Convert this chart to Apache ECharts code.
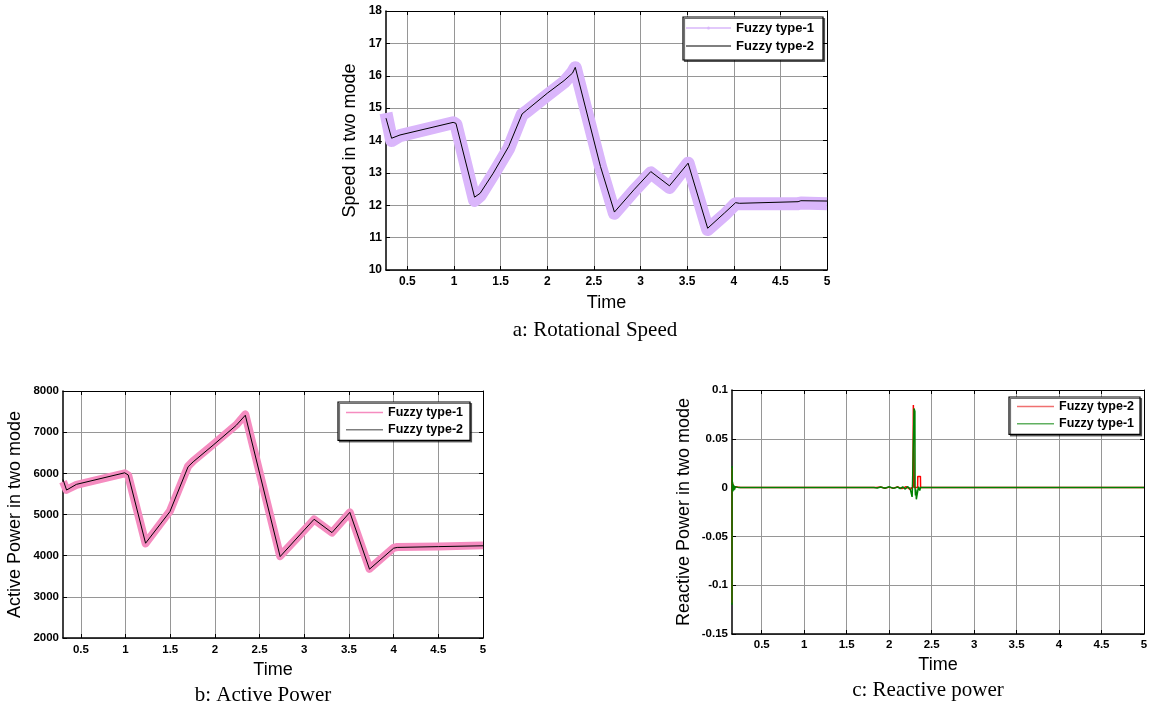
<!DOCTYPE html>
<html><head><meta charset="utf-8">
<script src="https://cdn.jsdelivr.net/npm/echarts@6/dist/echarts.min.js"></script>
<style>html,body{margin:0;padding:0;background:#fff}#c{width:1152px;height:709px}</style>
</head><body><div id="c"></div>
<script>
// ---- tick labels ----
const xTicks = [0.5, 1, 1.5, 2, 2.5, 3, 3.5, 4, 4.5, 5];

// ---- a: Rotational Speed ----
const speedTime  = [0.27, 0.33, 0.42, 0.99, 1.02, 1.22, 1.28, 1.42, 1.585, 1.73, 1.78, 2.0, 2.18, 2.27, 2.30, 2.57, 2.72, 2.93, 3.11, 3.31, 3.51, 3.72, 3.90, 4.02, 4.06, 4.69, 4.72, 5.0];
const speedType1 = [14.85, 14.0, 14.15, 14.55, 14.5, 12.15, 12.3, 12.95, 13.75, 14.8, 14.9, 15.4, 15.8, 16.1, 16.25, 13.2, 11.75, 12.45, 13.0, 12.55, 13.3, 11.25, 11.7, 12.05, 12.05, 12.05, 12.07, 12.05];
const speedType2 = [14.69, 14.07, 14.17, 14.56, 14.53, 12.25, 12.37, 12.99, 13.81, 14.82, 14.94, 15.46, 15.85, 16.08, 16.26, 13.2, 11.79, 12.48, 13.04, 12.60, 13.30, 11.29, 11.76, 12.08, 12.06, 12.11, 12.14, 12.13];

// ---- b: Active Power ----
const powerTime  = [0.30, 0.34, 0.45, 0.99, 1.03, 1.224, 1.496, 1.70, 1.757, 1.98, 2.24, 2.34, 2.73, 2.95, 3.11, 3.31, 3.51, 3.73, 4.0, 4.04, 4.5, 5.0];
const powerType1 = [5800, 5600, 5720, 6000, 5950, 4300, 5080, 6170, 6300, 6700, 7180, 7430, 3990, 4500, 4880, 4560, 5050, 3680, 4190, 4210, 4220, 4250];
const powerType2 = [5850, 5594, 5732, 6013, 5960, 4302, 5068, 6160, 6280, 6684, 7169, 7411, 3978, 4504, 4884, 4560, 5053, 3672, 4181, 4200, 4220, 4240];

// ---- c: Reactive power ----
const reactiveTime2 = [0.15, 0.151, 0.155, 0.16, 0.17, 0.18, 0.2, 0.25, 1.85, 1.9, 1.95, 2.0, 2.05, 2.1, 2.15, 2.2, 2.25, 2.28, 2.285, 2.29, 2.294, 2.296, 2.30, 2.335, 2.337, 2.368, 2.37, 5.0];
const reactiveType2 = [-0.118, 0.02, -0.003, 0.004, -0.002, 0.001, 0, 0, 0, 0.0006, -0.0006, 0.0005, -0.0008, 0.0008, -0.001, 0.001, -0.002, 0.001, 0.0845, 0.0845, 0.083, 0, 0, 0, 0.0115, 0.0115, 0, 0];
const reactiveTime1 = [0.15, 0.151, 0.153, 0.156, 0.16, 0.165, 0.17, 0.175, 0.18, 0.19, 0.2, 0.21, 0.23, 0.25, 0.87, 0.88, 0.89, 1.82, 1.84, 1.86, 1.9, 1.95, 2.0, 2.05, 2.1, 2.13, 2.16, 2.19, 2.22, 2.25, 2.27, 2.275, 2.28, 2.293, 2.298, 2.303, 2.305, 2.31, 2.315, 2.32, 2.33, 2.34, 2.345, 2.36, 2.37, 2.38, 2.39, 5.0];
const reactiveType1 = [-0.12, 0.022, -0.002, 0.006, -0.004, 0.003, -0.003, 0.002, -0.002, 0.001, -0.001, 0.001, 0, 0, 0, 0.0008, 0, 0, 0.0008, -0.0005, 0.0006, -0.0006, 0.0008, -0.0008, 0.0006, -0.001, 0.0008, -0.0015, 0.001, -0.002, -0.0095, 0.002, 0.0015, 0.081, 0.079, 0.078, 0, -0.008, -0.002, -0.012, -0.013, -0.011, 0.001, -0.003, 0, -0.001, 0, 0];

const pairs = (t, v) => t.map((x, i) => [x, v[i]]);

const SANS = 'Liberation Sans, Arial, sans-serif';
const SERIF = 'Liberation Serif, Times New Roman, serif';

const grids = [
  { left: 386, top: 11, width: 441, height: 259 },
  { left: 63, top: 391, width: 420, height: 247 },
  { left: 732, top: 390, width: 412, height: 244 }
];

function xAxes(gi, min, labelSize, labelMargin, nameGap) {
  return [{
    type: 'value', gridIndex: gi, min: min, max: 5, position: 'bottom',
    name: 'Time', nameLocation: 'middle', nameGap: nameGap,
    nameTextStyle: { fontFamily: SANS, fontSize: 18, color: '#000' },
    axisLine: { show: true, onZero: false, lineStyle: { color: '#000', width: 1.5 } },
    axisTick: { show: true, inside: true, length: 4, customValues: xTicks, lineStyle: { color: '#000' } },
    axisLabel: { customValues: xTicks, fontFamily: SANS, fontWeight: 'bold', fontSize: labelSize, color: '#000', margin: labelMargin },
    splitLine: { show: true, lineStyle: { color: '#969696', width: 1 } }
  }, {
    type: 'value', gridIndex: gi, min: min, max: 5, position: 'top',
    axisLine: { show: true, onZero: false, lineStyle: { color: '#000', width: 1 } },
    axisTick: { show: true, inside: true, length: 4, customValues: xTicks, lineStyle: { color: '#000' } },
    axisLabel: { show: false }, splitLine: { show: false }
  }];
}
function yAxes(gi, min, max, interval, name, labelSize, nameGap) {
  return [{
    type: 'value', gridIndex: gi, min: min, max: max, interval: interval, position: 'left',
    name: name, nameLocation: 'middle', nameGap: nameGap,
    nameTextStyle: { fontFamily: SANS, fontSize: 18, color: '#000' },
    axisLine: { show: true, onZero: false, lineStyle: { color: '#000', width: 1.5 } },
    axisTick: { show: true, inside: true, length: 4, lineStyle: { color: '#000' } },
    axisLabel: { fontFamily: SANS, fontWeight: 'bold', fontSize: labelSize, color: '#000', margin: 4,
      formatter: v => String(+v.toFixed(4)) },
    splitLine: { show: true, lineStyle: { color: '#969696', width: 1 } }
  }, {
    type: 'value', gridIndex: gi, min: min, max: max, interval: interval, position: 'right',
    axisLine: { show: true, onZero: false, lineStyle: { color: '#000', width: 1 } },
    axisTick: { show: true, inside: true, length: 4, lineStyle: { color: '#000' } },
    axisLabel: { show: false }, splitLine: { show: false }
  }];
}

const LINE_ICON = 'path://M0,0M45,14M0,6.5H45V7.5H0Z';
const THICK_ICON = 'path://M0,0M45,14M0,6H45V8H0Z';
const DOT_ICON = 'path://M0,0M45,14M0,6.2H45V7.8H0Z M24,7A1.5,1.5,0,1,1,21,7A1.5,1.5,0,1,1,24,7Z';

function legend(left, top, padding, itemWidth, fontSize, gap, items) {
  return {
    left: left, top: top, orient: 'vertical', padding: padding,
    itemWidth: itemWidth, itemHeight: 14, itemGap: gap,
    backgroundColor: '#fff', borderColor: '#000', borderWidth: 1.2,
    shadowColor: 'rgba(0,0,0,0.55)', shadowOffsetX: 1.5, shadowOffsetY: 1.5, shadowBlur: 0,
    selectedMode: false,
    textStyle: { fontFamily: SANS, fontWeight: 'bold', fontSize: fontSize, color: '#000' },
    data: items.map(it => ({ name: it.name, icon: it.icon, itemStyle: { color: it.color, borderWidth: 0 } }))
  };
}

const chart = echarts.init(document.getElementById('c'), null, { renderer: 'canvas' });
chart.setOption({
  backgroundColor: '#fff',
  animation: false,
  grid: grids,
  xAxis: [].concat(xAxes(0, 0.27, 12, 6, 24), xAxes(1, 0.30, 11.5, 6, 23), xAxes(2, 0.15, 11.5, 5, 22)),
  yAxis: [].concat(
    yAxes(0, 10, 18, 1, 'Speed in two mode', 12, 27),
    yAxes(1, 2000, 8000, 1000, 'Active Power in two mode', 11.5, 39),
    yAxes(2, -0.15, 0.1, 0.05, 'Reactive Power in two mode', 11.5, 39)
  ),
  legend: [
    legend(683, 17, [4, 9, 7, 3], 45, 13, 4, [
      { name: 'Fuzzy type-1', icon: DOT_ICON, color: '#d9b8fa' },
      { name: 'Fuzzy type-2', icon: LINE_ICON, color: '#000' }
    ]),
    legend(338, 402, [4, 7, 4, 8], 37, 12.5, 4.3, [
      { name: 'Fuzzy type-1', icon: THICK_ICON, color: '#f58cc0' },
      { name: 'Fuzzy type-2', icon: LINE_ICON, color: '#000' }
    ]),
    legend(1009, 397, [3, 6, 4, 8], 37, 12.5, 4.3, [
      { name: 'Fuzzy type-2', icon: THICK_ICON, color: '#f07070' },
      { name: 'Fuzzy type-1', icon: THICK_ICON, color: '#60b060' }
    ])
  ],
  graphic: [
    { type: 'text', x: 595, y: 330, style: { text: 'a: Rotational Speed', font: '21px ' + SERIF, fill: '#000', textAlign: 'center', textVerticalAlign: 'middle' } },
    { type: 'text', x: 263, y: 695.5, style: { text: 'b: Active Power', font: '21px ' + SERIF, fill: '#000', textAlign: 'center', textVerticalAlign: 'middle' } },
    { type: 'text', x: 928, y: 690.5, style: { text: 'c: Reactive power', font: '21px ' + SERIF, fill: '#000', textAlign: 'center', textVerticalAlign: 'middle' } }
  ],
  series: [
    { name: 'Fuzzy type-1', type: 'line', xAxisIndex: 0, yAxisIndex: 0, data: pairs(speedTime, speedType1),
      showSymbol: false, symbol: 'none', lineStyle: { color: '#dab6fb', width: 13, join: 'round', cap: 'butt' }, itemStyle: { color: '#dab6fb' }, z: 2 },
    { name: 'Fuzzy type-2', type: 'line', xAxisIndex: 0, yAxisIndex: 0, data: pairs(speedTime, speedType2),
      showSymbol: false, symbol: 'none', lineStyle: { color: '#000', width: 1 }, itemStyle: { color: '#000' }, z: 3 },
    { name: 'Fuzzy type-1', type: 'line', xAxisIndex: 2, yAxisIndex: 2, data: pairs(powerTime, powerType1),
      showSymbol: false, symbol: 'none', lineStyle: { color: '#f58cc0', width: 8, join: 'round' }, itemStyle: { color: '#f58cc0' }, z: 2 },
    { name: 'Fuzzy type-2', type: 'line', xAxisIndex: 2, yAxisIndex: 2, data: pairs(powerTime, powerType2),
      showSymbol: false, symbol: 'none', lineStyle: { color: '#000', width: 1 }, itemStyle: { color: '#000' }, z: 3 },
    { name: 'Fuzzy type-2', type: 'line', xAxisIndex: 4, yAxisIndex: 4, data: pairs(reactiveTime2, reactiveType2),
      showSymbol: false, symbol: 'none', lineStyle: { color: '#ff0000', width: 1.5 }, itemStyle: { color: '#ff0000' }, z: 2 },
    { name: 'Fuzzy type-1', type: 'line', xAxisIndex: 4, yAxisIndex: 4, data: pairs(reactiveTime1, reactiveType1),
      showSymbol: false, symbol: 'none', lineStyle: { color: '#008000', width: 1.5 }, itemStyle: { color: '#008000' }, z: 3 }
  ]
});
</script>
</body></html>
